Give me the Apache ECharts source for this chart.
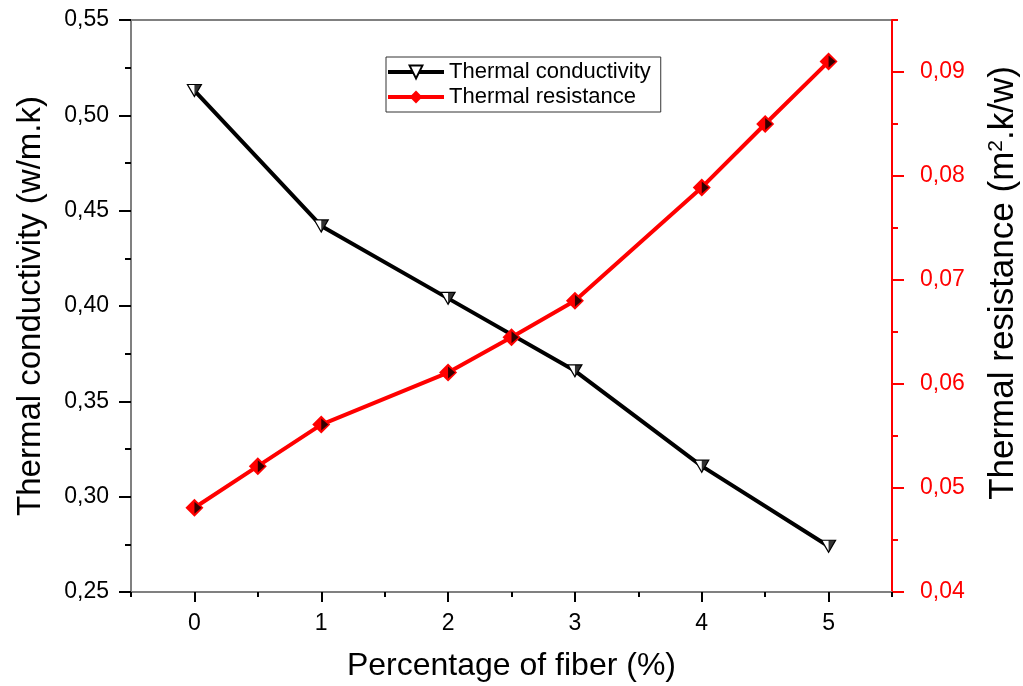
<!DOCTYPE html>
<html>
<head>
<meta charset="utf-8">
<script src="https://cdn.jsdelivr.net/npm/echarts@6/dist/echarts.min.js"></script>
<style>
  html, body { margin: 0; padding: 0; background: #fff; }
  #chart { width: 1023px; height: 686px; }
</style>
</head>
<body>
<div id="chart"></div>
<script>
// fiber percentage for each series
const fiberConductivity = [0, 1, 2, 3, 4, 5];
const conductivity = [0.513, 0.442, 0.404, 0.366, 0.316, 0.274];
const fiberResistance = [0, 0.5, 1, 2, 2.5, 3, 4, 4.5, 5];
const resistance = [0.0481, 0.0521, 0.0561, 0.0611, 0.0645, 0.0680, 0.0789, 0.0850, 0.0910];

const xMajorTicks = [0, 1, 2, 3, 4, 5];
const xMinorTicks = [-0.5, 0.5, 1.5, 2.5, 3.5, 4.5, 5.5];
const rightMajorTicks = [0.04, 0.05, 0.06, 0.07, 0.08, 0.09];
const rightMinorTicks = [0.045, 0.055, 0.065, 0.075, 0.085, 0.095];

const FONT = 'Liberation Sans';
const comma = (v, d) => v.toFixed(d).replace('.', ',');
const pairs = (xs, ys) => xs.map((x, i) => [x, ys[i]]);

const chart = echarts.init(document.getElementById('chart'));

const grey = '#808080';

chart.setOption({
  animation: false,
  textStyle: { fontFamily: FONT },
  grid: {
    left: 131, right: 131, top: 20, bottom: 94,
    outerBoundsMode: 'none', containLabel: false,
    show: true, borderColor: grey, borderWidth: 2
  },
  legend: {
    data: ['Thermal conductivity', 'Thermal resistance'],
    orient: 'vertical',
    left: 386, top: 57,
    padding: [4, 10, 4, 0],
    itemWidth: 56, itemHeight: 16, itemGap: 3,
    borderColor: '#333', borderWidth: 1,
    lineStyle: { width: 4 },
    textStyle: { fontFamily: FONT, fontSize: 22, color: '#000' }
  },
  xAxis: [
    {
      type: 'value', min: -0.5, max: 5.5,
      name: 'Percentage of fiber (%)', nameLocation: 'middle', nameGap: 58,
      nameTextStyle: { fontSize: 32, color: '#000', fontFamily: FONT },
      axisLine: { onZero: false, lineStyle: { color: grey, width: 2 } },
      axisTick: { customValues: xMajorTicks, length: 10, lineStyle: { color: '#000', width: 2 } },
      axisLabel: { customValues: xMajorTicks, fontSize: 23, color: '#000', margin: 20 },
      splitLine: { show: false }
    },
    {
      type: 'value', min: -0.5, max: 5.5, position: 'bottom',
      axisLine: { show: false, onZero: false },
      axisTick: { customValues: xMinorTicks, length: 5, lineStyle: { color: '#000', width: 2 } },
      axisLabel: { show: false },
      splitLine: { show: false }
    }
  ],
  yAxis: [
    {
      type: 'value', min: 0.25, max: 0.55, interval: 0.05, position: 'left',
      name: 'Thermal conductivity (w/m.k)', nameLocation: 'middle', nameGap: 84,
      nameTextStyle: { fontSize: 33, color: '#000', fontFamily: FONT },
      axisLine: { show: true, onZero: false, lineStyle: { color: grey, width: 2 } },
      axisTick: { show: true, length: 12, lineStyle: { color: '#000', width: 2 } },
      minorTick: { show: true, splitNumber: 2, length: 6, lineStyle: { color: '#000', width: 2 } },
      axisLabel: { fontSize: 23, color: '#000', margin: 22, formatter: v => comma(v, 2) },
      splitLine: { show: false }
    },
    {
      type: 'value', min: 0.04, max: 0.095, position: 'right',
      name: 'Thermal resistance (m{sup|2}.k/w)', nameLocation: 'middle', nameGap: 94,
      nameTextStyle: {
        fontSize: 35, color: '#000', fontFamily: FONT, padding: [0, 0, 0, 46],
        rich: { sup: { fontSize: 21, verticalAlign: 'top', padding: [0, 0, 14, 0], fontFamily: FONT } }
      },
      axisLine: { show: true, onZero: false, lineStyle: { color: '#ff0000', width: 2 } },
      axisTick: { show: true, customValues: rightMajorTicks, length: 12, lineStyle: { color: '#ff0000', width: 2 } },
      axisLabel: { customValues: rightMajorTicks, fontSize: 23, color: '#ff0000', margin: 28, formatter: v => comma(v, 2) },
      splitLine: { show: false }
    },
    {
      type: 'value', min: 0.04, max: 0.095, position: 'right',
      axisLine: { show: false, onZero: false },
      axisTick: { show: true, customValues: rightMinorTicks, length: 6, lineStyle: { color: '#ff0000', width: 2 } },
      axisLabel: { show: false },
      splitLine: { show: false }
    }
  ],
  series: [
    {
      name: 'Thermal conductivity', type: 'line', yAxisIndex: 0,
      data: pairs(fiberConductivity, conductivity),
      lineStyle: { color: '#000', width: 4 },
      itemStyle: { color: '#fff', borderColor: '#000', borderWidth: 1.2 },
      symbol: 'triangle', symbolRotate: 180, symbolSize: [14, 12], z: 3
    },
    {
      type: 'scatter', yAxisIndex: 0, silent: true,
      data: pairs(fiberConductivity, conductivity),
      symbol: 'path://M0,0 L1,0 L0,1 Z', symbolSize: [7, 12], symbolOffset: [3.5, 0],
      itemStyle: { color: '#000' }, z: 4
    },
    {
      name: 'Thermal resistance', type: 'line', yAxisIndex: 1,
      data: pairs(fiberResistance, resistance),
      lineStyle: { color: '#ff0000', width: 4 },
      itemStyle: { color: '#ff0000' },
      symbol: 'diamond', symbolSize: [18, 18], z: 5
    },
    {
      type: 'scatter', yAxisIndex: 1, silent: true,
      data: pairs(fiberResistance, resistance),
      symbol: 'path://M0,0 L1,0.5 L0,1 Z', symbolSize: [7, 12], symbolOffset: [3.5, 0],
      itemStyle: { color: '#000' }, z: 6
    }
  ]
});
</script>
</body>
</html>
